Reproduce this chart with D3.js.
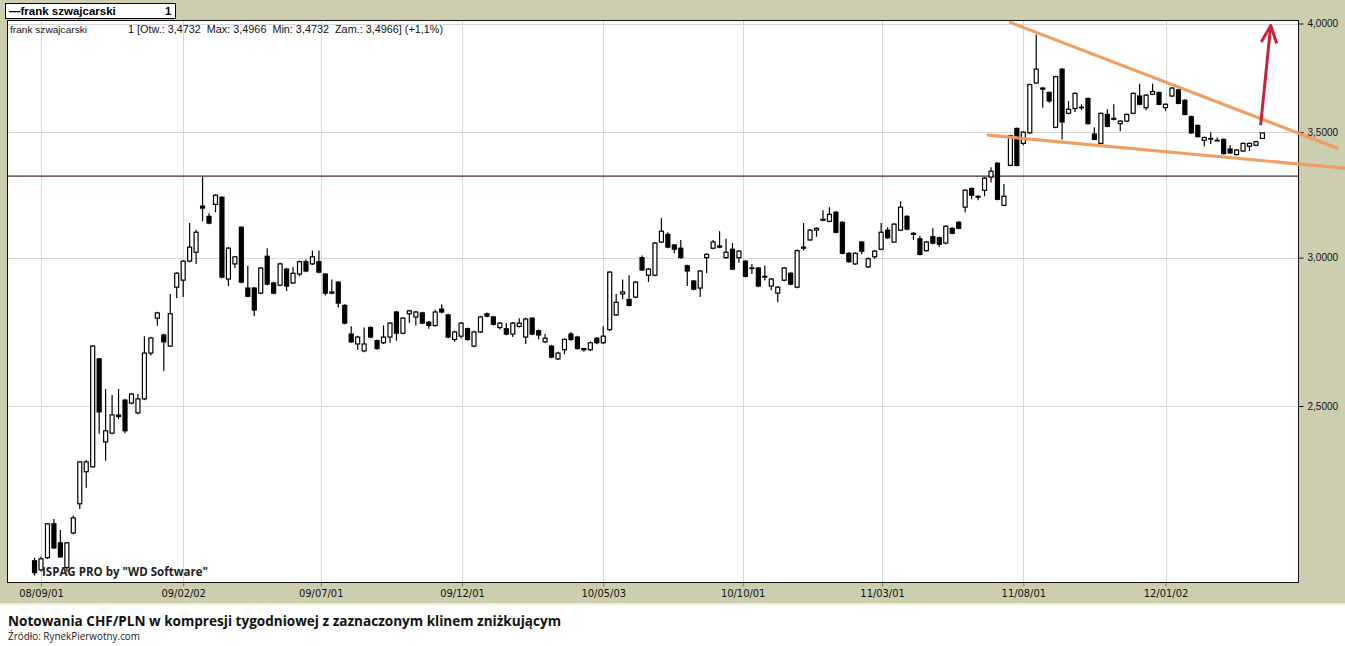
<!DOCTYPE html>
<html>
<head>
<meta charset="utf-8">
<script src="https://cdn.jsdelivr.net/npm/d3@7"></script>
<style>
  body { margin: 0; background: #fff; }
  svg { display: block; }
</style>
</head>
<body>
<div id="chart"></div>
<script>
// Weekly CHF/PLN candles, first week begins 2008-08-25
let startWeek = '2008-08-25'

let opens = [
  2.067, 2.044, 2.075, 2.163, 2.113, 2.050, 2.139, 2.217, 2.306, 2.320,
  2.649, 2.392, 2.418, 2.472, 2.518, 2.509, 2.479, 2.522, 2.668, 2.785,
  2.728, 2.691, 2.893, 2.918, 2.987, 3.020, 3.196, 3.156, 3.203, 3.231,
  2.922, 2.977, 3.114, 2.890, 2.890, 2.872, 3.005, 2.908, 2.900, 2.958,
  2.908, 2.940, 2.985, 2.977, 2.985, 2.940, 2.876, 2.911, 2.829, 2.731,
  2.698, 2.675, 2.753, 2.709, 2.702, 2.721, 2.806, 2.734, 2.800, 2.789,
  2.803, 2.771, 2.760, 2.816, 2.796, 2.713, 2.724, 2.749, 2.691, 2.738,
  2.800, 2.789, 2.753, 2.749, 2.731, 2.757, 2.721, 2.785, 2.742, 2.705,
  2.691, 2.649, 2.679, 2.731, 2.721, 2.683, 2.679, 2.717, 2.702, 2.746,
  2.796, 2.869, 2.850, 2.858, 3.000, 2.936, 2.936, 3.058, 3.087, 3.047,
  3.035, 2.970, 2.915, 2.890, 3.000, 3.035, 3.043, 3.000, 3.031, 3.000,
  2.987, 2.962, 2.962, 2.932, 2.897, 2.872, 2.918, 2.943, 2.893, 3.039,
  3.066, 3.103, 3.145, 3.137, 3.172, 3.133, 3.016, 2.977, 3.058, 2.966,
  3.003, 3.031, 3.103, 3.058, 3.103, 3.156, 3.091, 3.070, 3.026, 3.078,
  3.074, 3.054, 3.110, 3.133, 3.192, 3.266, 3.235, 3.259, 3.312, 3.369,
  3.199, 3.360, 3.516, 3.452, 3.497, 3.718, 3.695, 3.675, 3.521, 3.782,
  3.582, 3.603, 3.607, 3.648, 3.492, 3.452, 3.577, 3.560, 3.537, 3.548,
  3.582, 3.659, 3.607, 3.667, 3.675, 3.607, 3.659, 3.687, 3.640, 3.567,
  3.529, 3.465, 3.473, 3.465, 3.469, 3.428, 3.405, 3.420, 3.440, 3.444,
  3.4732
]

let highs = [
  2.075, 2.077, 2.165, 2.176, 2.147, 2.115, 2.185, 2.336, 2.340, 2.695,
  2.652, 2.553, 2.534, 2.553, 2.522, 2.540, 2.537, 2.724, 2.722, 2.807,
  2.732, 2.869, 2.947, 2.990, 3.130, 3.105, 3.316, 3.168, 3.243, 3.235,
  3.039, 3.006, 3.118, 2.970, 2.894, 2.966, 3.035, 2.912, 2.981, 2.962,
  2.966, 2.989, 2.993, 3.026, 3.026, 2.944, 2.920, 2.915, 2.833, 2.757,
  2.725, 2.753, 2.757, 2.713, 2.760, 2.772, 2.810, 2.789, 2.814, 2.810,
  2.807, 2.775, 2.814, 2.833, 2.800, 2.742, 2.772, 2.753, 2.742, 2.793,
  2.804, 2.793, 2.772, 2.768, 2.772, 2.785, 2.786, 2.789, 2.746, 2.731,
  2.695, 2.672, 2.717, 2.738, 2.725, 2.683, 2.706, 2.721, 2.757, 2.951,
  2.869, 2.920, 2.936, 2.915, 3.008, 2.962, 3.058, 3.149, 3.095, 3.051,
  3.066, 2.974, 2.919, 2.955, 3.016, 3.066, 3.099, 3.070, 3.054, 3.028,
  2.991, 2.977, 2.966, 2.970, 2.926, 2.897, 2.966, 2.947, 3.030, 3.130,
  3.107, 3.114, 3.180, 3.192, 3.176, 3.137, 3.020, 3.020, 3.062, 3.000,
  3.028, 3.130, 3.114, 3.130, 3.215, 3.160, 3.095, 3.082, 3.062, 3.110,
  3.078, 3.122, 3.114, 3.137, 3.263, 3.270, 3.239, 3.312, 3.352, 3.373,
  3.284, 3.489, 3.520, 3.504, 3.715, 3.946, 3.699, 3.679, 3.751, 3.786,
  3.637, 3.675, 3.622, 3.652, 3.521, 3.586, 3.600, 3.622, 3.552, 3.581,
  3.675, 3.715, 3.667, 3.715, 3.679, 3.626, 3.699, 3.691, 3.644, 3.571,
  3.533, 3.481, 3.500, 3.477, 3.473, 3.444, 3.428, 3.456, 3.456, 3.463,
  3.4966
]

let lows = [
  2.030, 2.040, 2.072, 2.098, 2.075, 2.040, 2.135, 2.203, 2.261, 2.318,
  2.416, 2.337, 2.415, 2.460, 2.418, 2.505, 2.475, 2.518, 2.660, 2.759,
  2.610, 2.688, 2.854, 2.858, 2.983, 2.977, 3.137, 3.126, 3.172, 2.925,
  2.897, 2.962, 2.907, 2.857, 2.792, 2.868, 2.900, 2.868, 2.896, 2.879,
  2.904, 2.932, 2.947, 2.973, 2.943, 2.864, 2.868, 2.822, 2.764, 2.701,
  2.679, 2.671, 2.717, 2.679, 2.698, 2.702, 2.709, 2.730, 2.768, 2.760,
  2.764, 2.749, 2.756, 2.802, 2.717, 2.705, 2.717, 2.709, 2.687, 2.734,
  2.788, 2.760, 2.746, 2.727, 2.721, 2.753, 2.698, 2.727, 2.713, 2.701,
  2.651, 2.645, 2.664, 2.709, 2.679, 2.672, 2.675, 2.698, 2.698, 2.742,
  2.792, 2.850, 2.825, 2.854, 2.951, 2.911, 2.932, 3.054, 3.035, 3.016,
  2.996, 2.897, 2.882, 2.858, 2.943, 3.031, 3.035, 2.996, 2.954, 2.981,
  2.928, 2.940, 2.893, 2.918, 2.882, 2.840, 2.914, 2.900, 2.889, 3.026,
  3.062, 3.078, 3.137, 3.133, 3.091, 3.012, 2.981, 2.973, 3.012, 2.962,
  2.996, 3.027, 3.070, 3.054, 3.099, 3.103, 3.066, 3.008, 3.022, 3.050,
  3.039, 3.050, 3.087, 3.106, 3.172, 3.223, 3.219, 3.235, 3.290, 3.219,
  3.195, 3.356, 3.356, 3.444, 3.493, 3.714, 3.607, 3.629, 3.517, 3.469,
  3.578, 3.588, 3.596, 3.533, 3.465, 3.448, 3.521, 3.552, 3.504, 3.544,
  3.578, 3.618, 3.596, 3.663, 3.618, 3.592, 3.655, 3.622, 3.573, 3.493,
  3.477, 3.440, 3.450, 3.463, 3.405, 3.408, 3.401, 3.416, 3.420, 3.440,
  3.4732
]

let closes = [
  2.037, 2.072, 2.163, 2.100, 2.077, 2.113, 2.179, 2.334, 2.334, 2.691,
  2.482, 2.425, 2.473, 2.468, 2.425, 2.537, 2.522, 2.668, 2.718, 2.803,
  2.705, 2.800, 2.943, 2.987, 3.039, 3.095, 3.188, 3.130, 3.239, 2.929,
  3.035, 3.003, 2.911, 2.861, 2.813, 2.962, 2.904, 2.872, 2.977, 2.897,
  2.943, 2.985, 2.951, 3.003, 2.947, 2.872, 2.872, 2.837, 2.768, 2.705,
  2.721, 2.698, 2.721, 2.683, 2.721, 2.768, 2.734, 2.785, 2.810, 2.806,
  2.768, 2.760, 2.806, 2.806, 2.721, 2.738, 2.768, 2.713, 2.738, 2.789,
  2.792, 2.764, 2.768, 2.731, 2.768, 2.768, 2.782, 2.731, 2.728, 2.717,
  2.655, 2.668, 2.713, 2.713, 2.683, 2.679, 2.702, 2.702, 2.724, 2.947,
  2.840, 2.876, 2.829, 2.911, 2.955, 2.958, 3.054, 3.099, 3.039, 3.031,
  3.000, 2.951, 2.886, 2.951, 3.012, 3.058, 3.039, 3.020, 2.958, 3.024,
  2.932, 2.960, 2.897, 2.929, 2.922, 2.893, 2.962, 2.904, 3.026, 3.035,
  3.103, 3.110, 3.141, 3.164, 3.095, 3.016, 2.985, 3.016, 3.024, 2.996,
  3.024, 3.095, 3.074, 3.126, 3.192, 3.107, 3.087, 3.012, 3.058, 3.054,
  3.050, 3.118, 3.091, 3.110, 3.259, 3.239, 3.231, 3.308, 3.336, 3.223,
  3.235, 3.485, 3.360, 3.500, 3.711, 3.782, 3.690, 3.637, 3.747, 3.544,
  3.600, 3.671, 3.609, 3.537, 3.469, 3.582, 3.525, 3.556, 3.548, 3.577,
  3.671, 3.622, 3.663, 3.679, 3.622, 3.622, 3.695, 3.626, 3.577, 3.497,
  3.481, 3.477, 3.473, 3.465, 3.409, 3.412, 3.424, 3.452, 3.452, 3.459,
  3.4966
]

// Axis ticks
let xTicks = ['2008-09-01', '2009-02-02', '2009-07-01', '2009-12-01', '2010-05-03',
  '2010-10-01', '2011-03-01', '2011-08-01', '2012-01-02']
let yTicks = [2.5, 3, 3.5, 4]

// Drawn annotations (date, value)
let resistance = 3.316
let wedgeUpper = [{date: '2011-07-18', value: 4.005}, {date: '2012-07-06', value: 3.432}]
let wedgeLower = [{date: '2011-06-24', value: 3.487}, {date: '2012-07-15', value: 3.348}]
let breakout = [{date: '2012-04-14', value: 3.53}, {date: '2012-04-25', value: 3.99}]

let seriesName = 'frank szwajcarski'
let caption = 'Notowania CHF/PLN w kompresji tygodniowej z zaznaczonym klinem zniżkującym'
let source = 'Źródło: RynekPierwotny.com'

// Layout
let W = 1345, H = 646
let plot = {l: 7.5, r: 1298.5, t: 20.5, b: 582.5}
let olive = '#cdcdb0'

let parse = d3.timeParse('%Y-%m-%d')
let start = parse(startWeek)
let candles = opens.map((o, i) => ({
  date: d3.timeDay.offset(start, 7 * i),
  o: o, h: highs[i], l: lows[i], c: closes[i]
}))

let x = d3.scaleTime()
  .domain([parse('2008-09-01'), parse('2012-01-02')])
  .range([41, 1165.5])
let y = d3.scaleLog()
  .domain([2.5, 4])
  .range([406, 23.5])

let svg = d3.select('#chart').append('svg')
  .attr('width', W)
  .attr('height', H)

// Backgrounds
svg.append('rect').attr('width', W).attr('height', H).attr('fill', '#fff')
svg.append('rect').attr('width', W).attr('height', 603).attr('fill', olive)
svg.append('line')
  .attr('x1', 0).attr('x2', W).attr('y1', 604).attr('y2', 604)
  .attr('stroke', '#eef0d8').attr('stroke-width', 2)
svg.append('rect')
  .attr('x', plot.l).attr('y', plot.t)
  .attr('width', plot.r - plot.l).attr('height', plot.b - plot.t)
  .attr('fill', '#fff')

// Grid
svg.append('g').selectAll('line')
  .data(xTicks.map(parse))
  .enter().append('line')
  .attr('x1', d => Math.round(x(d)) + 0.5).attr('x2', d => Math.round(x(d)) + 0.5)
  .attr('y1', plot.t).attr('y2', plot.b)
  .attr('stroke', '#d6d6d6')
svg.append('g').selectAll('line')
  .data(yTicks)
  .enter().append('line')
  .attr('x1', plot.l).attr('x2', plot.r)
  .attr('y1', d => Math.round(y(d)) + 0.5).attr('y2', d => Math.round(y(d)) + 0.5)
  .attr('stroke', '#d6d6d6')

// Horizontal resistance
svg.append('line')
  .attr('x1', plot.l).attr('x2', plot.r)
  .attr('y1', y(resistance)).attr('y2', y(resistance))
  .attr('stroke', '#4e2a2a').attr('stroke-width', 1.3)

// Candles
let candle = svg.append('g').selectAll('g')
  .data(candles)
  .enter().append('g')

candle.append('line')
  .attr('x1', d => x(d.date)).attr('x2', d => x(d.date))
  .attr('y1', d => y(d.h)).attr('y2', d => y(d.l))
  .attr('stroke', '#000').attr('stroke-width', 1.2)

candle.append('rect')
  .attr('x', d => x(d.date) - 2)
  .attr('width', 4)
  .attr('y', d => y(Math.max(d.o, d.c)))
  .attr('height', d => Math.max(0.6, Math.abs(y(d.o) - y(d.c))))
  .attr('fill', d => d.c >= d.o ? '#fff' : '#000')
  .attr('stroke', '#000')
  .attr('stroke-width', 1.2)

// Plot frame
svg.append('rect')
  .attr('x', plot.l).attr('y', plot.t)
  .attr('width', plot.r - plot.l).attr('height', plot.b - plot.t)
  .attr('fill', 'none').attr('stroke', '#111').attr('stroke-width', 1)

// Axes
let fmt4 = d => d3.format('.4f')(d).replace('.', ',')
let yAxis = svg.append('g')
  .attr('transform', `translate(${plot.r},0)`)
  .call(d3.axisRight(y).tickValues(yTicks).tickSize(5).tickPadding(4).tickFormat(fmt4))
yAxis.select('.domain').remove()
yAxis.selectAll('text')
  .attr('font-family', '"Liberation Sans", Arial, sans-serif')
  .attr('font-size', 10).attr('fill', '#111')
yAxis.selectAll('line').attr('stroke', '#111')

let xAxis = svg.append('g')
  .attr('transform', `translate(0,${plot.b})`)
  .call(d3.axisBottom(x).tickValues(xTicks.map(parse)).tickSize(4).tickPadding(3)
    .tickFormat(d3.timeFormat('%y/%m/%d')))
xAxis.select('.domain').remove()
xAxis.selectAll('text')
  .attr('font-family', '"Liberation Sans Narrow", "Arial Narrow", "DejaVu Sans Condensed", sans-serif')
  .attr('font-size', 11).attr('fill', '#111')
xAxis.selectAll('line').attr('stroke', '#777')

// Falling wedge
let line = d3.line().x(d => x(parse(d.date))).y(d => y(d.value))
;[wedgeUpper, wedgeLower].forEach(pts => {
  svg.append('path')
    .attr('d', line(pts))
    .attr('fill', 'none')
    .attr('stroke', '#ef9a5b')
    .attr('stroke-width', 3.2)
    .attr('stroke-linecap', 'round')
    .attr('opacity', 0.95)
})

// Breakout arrow
let arrowColor = '#c4253c'
svg.append('path')
  .attr('d', line(breakout))
  .attr('fill', 'none')
  .attr('stroke', arrowColor)
  .attr('stroke-width', 3)
let p0 = [x(parse(breakout[0].date)), y(breakout[0].value)]
let p1 = [x(parse(breakout[1].date)), y(breakout[1].value)]
let ang = Math.atan2(p1[1] - p0[1], p1[0] - p0[0])
let headLen = 19, headSpread = 0.42
svg.append('path')
  .attr('d', d3.line()([
    [p1[0] - headLen * Math.cos(ang - headSpread), p1[1] - headLen * Math.sin(ang - headSpread)],
    p1,
    [p1[0] - headLen * Math.cos(ang + headSpread), p1[1] - headLen * Math.sin(ang + headSpread)]
  ]))
  .attr('fill', 'none')
  .attr('stroke', arrowColor)
  .attr('stroke-width', 3)
  .attr('stroke-linejoin', 'round')

// Series legend box
svg.append('rect')
  .attr('x', 5.5).attr('y', 3.5).attr('width', 170).attr('height', 15)
  .attr('fill', '#fff').attr('stroke', '#000')
svg.append('text')
  .attr('x', 9).attr('y', 15)
  .attr('font-family', '"Liberation Sans", Arial, sans-serif')
  .attr('font-size', 11.5).attr('font-weight', 'bold')
  .text('\u2014' + seriesName)
svg.append('text')
  .attr('x', 165).attr('y', 15)
  .attr('font-family', '"Liberation Sans", Arial, sans-serif')
  .attr('font-size', 11.5).attr('font-weight', 'bold')
  .text('1')

// Last candle info line
let last = candles[candles.length - 1]
let prev = candles[candles.length - 2]
let pct = ((last.c / prev.c - 1) * 100)
let info = `1 [Otw.: ${fmt4(last.o)}  Max: ${fmt4(last.h)}  Min: ${fmt4(last.l)}  Zam.: ${fmt4(last.c)}] (${pct >= 0 ? '+' : ''}${d3.format('.1f')(pct).replace('.', ',')}%)`
svg.append('text')
  .attr('x', 10).attr('y', 33)
  .attr('font-family', '"Liberation Sans", Arial, sans-serif')
  .attr('font-size', 9.5).attr('fill', '#111')
  .attr('textLength', 77).attr('lengthAdjust', 'spacingAndGlyphs')
  .text(seriesName)
svg.append('text')
  .attr('x', 128).attr('y', 33)
  .attr('font-family', '"Liberation Sans", Arial, sans-serif')
  .attr('font-size', 10).attr('fill', '#111')
  .attr('xml:space', 'preserve')
  .style('white-space', 'pre')
  .attr('textLength', 315).attr('lengthAdjust', 'spacingAndGlyphs')
  .text(info)

// Software watermark
svg.append('text')
  .attr('x', 42).attr('y', 576)
  .attr('font-family', '"Open Sans", "Noto Sans", sans-serif')
  .attr('font-size', 12.5).attr('font-weight', 'bold').attr('fill', '#222')
  .attr('textLength', 166).attr('lengthAdjust', 'spacingAndGlyphs')
  .text('ISPAG PRO by "WD Software"')

// Caption
svg.append('text')
  .attr('x', 8).attr('y', 626)
  .attr('font-family', '"Open Sans", "Noto Sans", sans-serif')
  .attr('font-size', 14.5).attr('font-weight', 'bold').attr('fill', '#111')
  .attr('textLength', 553).attr('lengthAdjust', 'spacingAndGlyphs')
  .text(caption)
svg.append('text')
  .attr('x', 8).attr('y', 640)
  .attr('font-family', '"Open Sans", "Noto Sans", sans-serif')
  .attr('font-size', 10).attr('fill', '#222')
  .attr('textLength', 132).attr('lengthAdjust', 'spacingAndGlyphs')
  .text(source)
</script>
</body>
</html>
